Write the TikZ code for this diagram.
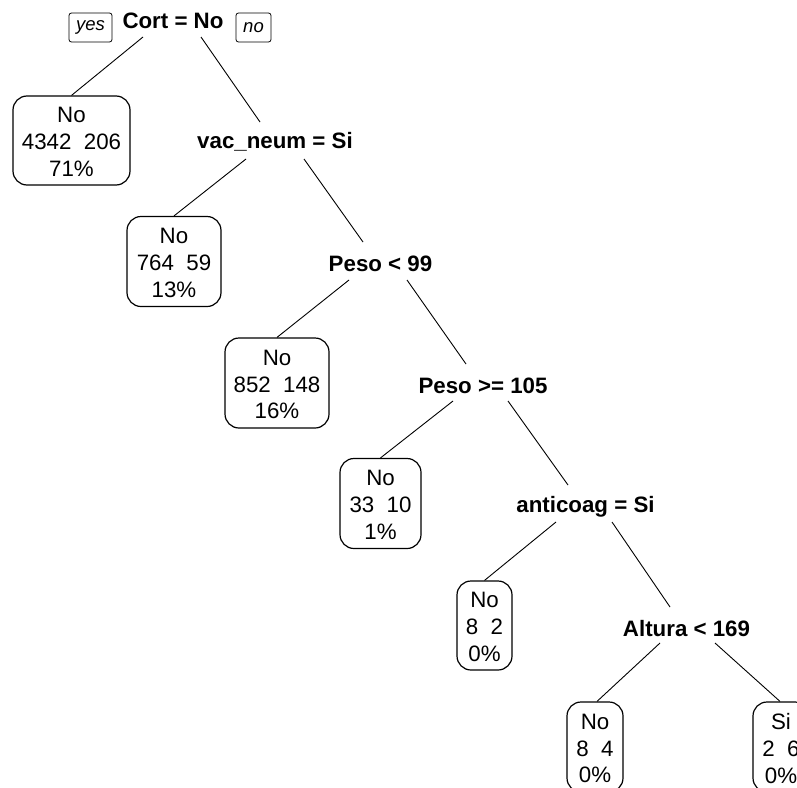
\documentclass[tikz,border=0pt]{standalone}
\usepackage{fontspec}
\setmainfont{Liberation Sans}
\begin{document}
\begin{tikzpicture}[x=1pt,y=-1pt,
  split/.style={font=\fontsize{22.3}{27}\selectfont\bfseries, inner sep=0pt, anchor=base},
  leaf/.style={draw, line width=1.2pt, rounded corners=14pt, inner sep=0pt},
  leaftext/.style={align=center, inner sep=0pt, font=\fontsize{22.3}{26.7}\selectfont},
  tag/.style={draw, line width=0.8pt, rounded corners=2.5pt, inner sep=0pt,
    font=\fontsize{18.5}{20}\selectfont\itshape},
  edge/.style={line width=0.9pt}]
\clip (0,0) rectangle (797,787);
\fill[white] (0,0) rectangle (797,787);
% split labels
\node[split] (cort) at (173,28) {Cort = No};
\node[split] (vac) at (275,148) {vac\_neum = Si};
\node[split] (p99) at (380.5,271) {Peso < 99};
\node[split] (p105) at (483,393) {Peso >= 105};
\node[split] (anti) at (585.5,512) {anticoag = Si};
\node[split] (alt) at (686.5,636) {Altura < 169};
% yes / no tags
\node[tag, minimum width=43pt, minimum height=29pt] (yes) at (90.5,27.5) {yes};
\node[tag, minimum width=35pt, minimum height=29pt] (no) at (253.5,27.5) {no};
% leaves
\node[leaf, minimum width=117pt, minimum height=89pt] (l1) at (71.5,140.5) {};
\node[leaf, minimum width=94pt, minimum height=90pt] (l2) at (174,261.5) {};
\node[leaf, minimum width=104pt, minimum height=90pt] (l3) at (277,383) {};
\node[leaf, minimum width=81pt, minimum height=90pt] (l4) at (380.5,503.5) {};
\node[leaf, minimum width=55pt, minimum height=89pt] (l5) at (484.5,625.5) {};
\node[leaf, minimum width=56pt, minimum height=90pt] (l6) at (595,747) {};
\node[leaf, minimum width=56pt, minimum height=90pt] (l7) at (781,747) {};
\node[leaftext] (t1) at ([yshift=-1.5pt]l1.center) {No\\4342\ \ 206\\71\%};
\node[leaftext] (t2) at ([yshift=-1.5pt]l2.center) {No\\764\ \ 59\\13\%};
\node[leaftext] (t3) at ([yshift=-1.5pt]l3.center) {No\\852\ \ 148\\16\%};
\node[leaftext] (t4) at ([yshift=-1.5pt]l4.center) {No\\33\ \ 10\\1\%};
\node[leaftext] (t5) at ([yshift=-1.5pt]l5.center) {No\\8\ \ 2\\0\%};
\node[leaftext] (t6) at ([yshift=-1.5pt]l6.center) {No\\8\ \ 4\\0\%};
\node[leaftext] (t7) at ([yshift=-1.5pt]l7.center) {Si\\2\ \ 6\\0\%};
% connectors
\draw[edge] ([shift={(-30,9)}]cort.base) -- (l1.north);
\draw[edge] ([shift={(28,9)}]cort.base) -- ([shift={(-15,-26)}]vac.base);
\draw[edge] ([shift={(-29,11)}]vac.base) -- (l2.north);
\draw[edge] ([shift={(29,11)}]vac.base) -- ([shift={(-17.5,-29)}]p99.base);
\draw[edge] ([shift={(-31.5,9)}]p99.base) -- (l3.north);
\draw[edge] ([shift={(26.5,9)}]p99.base) -- ([shift={(-17,-29)}]p105.base);
\draw[edge] ([shift={(-30,8)}]p105.base) -- (l4.north);
\draw[edge] ([shift={(25,8)}]p105.base) -- ([shift={(-17.5,-27)}]anti.base);
\draw[edge] ([shift={(-29.5,10)}]anti.base) -- (l5.north);
\draw[edge] ([shift={(26.5,10)}]anti.base) -- ([shift={(-16.5,-29)}]alt.base);
\draw[edge] ([shift={(-26.5,7)}]alt.base) -- ([xshift=2pt]l6.north);
\draw[edge] ([shift={(28.5,7)}]alt.base) -- ([xshift=-1pt]l7.north);
\end{tikzpicture}
\end{document}
